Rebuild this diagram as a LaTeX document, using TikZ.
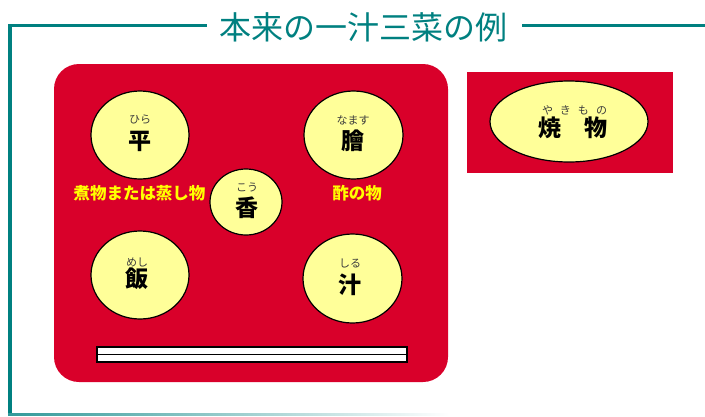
\documentclass[tikz,border=0pt]{standalone}
\usepackage{fontspec}
\setmainfont{Noto Sans CJK JP}
\usetikzlibrary{shapes.geometric}
\definecolor{teal0}{RGB}{0,128,128}
\definecolor{tray}{RGB}{217,0,42}
\definecolor{dishfill}{RGB}{255,255,153}
\definecolor{rubygray}{RGB}{60,60,60}
\definecolor{labelyellow}{RGB}{255,255,0}
\tikzset{
  dish/.style={ellipse, draw=black, line width=1.2pt, fill=dishfill, inner sep=0pt},
  rubytext/.style={text=rubygray, font=\fontsize{11}{11}\selectfont, inner sep=0pt},
  maintext/.style={text=black, font=\bfseries\fontsize{23}{23}\selectfont, inner sep=0pt},
  ylabel/.style={text=labelyellow, font=\bfseries\fontsize{16.5}{16.5}\selectfont, inner sep=0pt},
  stick/.style={draw=black, line width=1.2pt, fill=white},
  frameline/.style={fill=teal0},
}
\begin{document}
\begin{tikzpicture}[x=1pt,y=-1pt]
\useasboundingbox (0,0) rectangle (705,416);
% frame
\fill[frameline] (8,23.5) rectangle (207,26.5);
\fill[frameline] (522,23.5) rectangle (705,26.5);
\fill[frameline] (8,23.5) rectangle (11.5,416);
\shade[left color=teal0!80, right color=white] (8,413) rectangle (450,415.5);
\node[text=teal0, font=\fontsize{32}{32}\selectfont, inner sep=0pt] (title) at (363,27) {本来の一汁三菜の例};
% trays
\fill[tray, rounded corners=25pt] (54,64) rectangle (448,382);
\fill[tray] (467,72) rectangle (673,173);
% dishes
\node[dish, minimum width=98pt, minimum height=88pt] (hira) at (140,135) {};
\node[dish, minimum width=99pt, minimum height=88pt] (namasu) at (353.5,135) {};
\node[dish, minimum width=72pt, minimum height=66pt] (kou) at (246,202) {};
\node[dish, minimum width=98pt, minimum height=88pt] (meshi) at (140,275) {};
\node[dish, minimum width=99pt, minimum height=89pt] (shiru) at (352.5,278.5) {};
\node[dish, minimum width=158pt, minimum height=81pt] (yakimono) at (569,121.5) {};
% texts
\node[rubytext] (r1) at (140,120) {ひら};
\node[maintext] (t1) at (140,141) {平};
\node[rubytext] (r2) at (353,120) {なます};
\node[maintext] (t2) at (353,141) {膾};
\node[rubytext] (r3) at (247,187) {こう};
\node[maintext] (t3) at (247,208) {香};
\node[rubytext] (r4) at (137,262) {めし};
\node[maintext] (t4) at (137,279) {飯};
\node[rubytext] (r5) at (350,263) {しる};
\node[maintext] (t5) at (350,285) {汁};
\node[rubytext] (r6) at (574.5,110) {や\hspace{7pt}き\hspace{7pt}も\hspace{7pt}の};
\node[maintext] (t6) at (572.5,128) {焼　物};
\node[ylabel] (l1) at (139.5,193) {煮物または蒸し物};
\node[ylabel] (l2) at (357,193) {酢の物};
% chopsticks
\node[stick, rectangle, minimum width=310pt, minimum height=7.5pt, inner sep=0pt] (stick1) at (252,350.75) {};
\node[stick, rectangle, minimum width=310pt, minimum height=7.5pt, inner sep=0pt] (stick2) at (252,358.25) {};
\end{tikzpicture}
\end{document}
